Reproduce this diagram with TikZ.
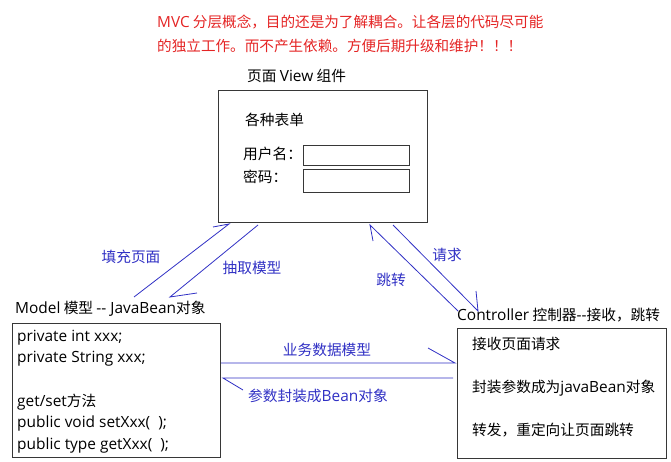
\documentclass[tikz,border=0pt]{standalone}
\usepackage{fontspec}
\setmainfont{Noto Sans CJK SC}
\newfontfamily\latinfont[Scale=1.05]{Open Sans}
\newcommand\lt[1]{{\latinfont #1}}
\definecolor{notered}{RGB}{228,36,36}
\definecolor{flowblue}{RGB}{48,48,196}
\definecolor{boxgray}{RGB}{55,55,55}
\tikzset{
	txt/.style={inner sep=0pt, text height=11pt, text depth=3pt, font=\fontsize{14.7}{16}\selectfont},
	box/.style={draw=boxgray, line width=1.1pt, inner sep=0pt, anchor=north west},
	link/.style={draw=flowblue, line width=0.8pt},
	flowtxt/.style={txt, text=flowblue}
}
\begin{document}
\begin{tikzpicture}[x=1pt, y=-1pt]
		\useasboundingbox (0,0) rectangle (671,462);

		% note on top
		\node[txt, anchor=west, text=notered, font=\fontsize{14.6}{16}\selectfont] (note1) at (157,24) {\lt{MVC} 分层概念，目的还是为了解耦合。让各层的代码尽可能};
		\node[txt, anchor=west, text=notered, font=\fontsize{14.6}{16}\selectfont] (note2) at (157,48) {的独立工作。而不产生依赖。方便后期升级和维护！！！};

		% view
		\node[txt, anchor=west] (viewlabel) at (247,78) {页面 \lt{View} 组件};
		\node[box, minimum width=209pt, minimum height=132pt] (view) at (218,90) {};
		\node[txt, anchor=west] (form) at (245,122) {各种表单};
		\node[txt, anchor=west] (userlabel) at (243,156) {用户名：};
		\node[txt, anchor=west] (pwdlabel) at (243,179) {密码：};
		\node[box, minimum width=106pt, minimum height=20pt] (user) at (303,145) {};
		\node[box, minimum width=106pt, minimum height=23pt] (pwd) at (303,169) {};

		% model
		\node[txt, anchor=west] (modellabel) at (15,309) {\lt{Model} 模型 \lt{-{}- JavaBean}对象};
		\node[box, minimum width=208pt, minimum height=134pt] (model) at (12,323) {};
		\node[txt, anchor=west] (m1) at (17,337) {\lt{private int xxx;}};
		\node[txt, anchor=west] (m2) at (17,358) {\lt{private String xxx;}};
		\node[txt, anchor=west] (m3) at (17,402) {\lt{get/set}方法};
		\node[txt, anchor=west] (m4) at (17,423) {\lt{public void setXxx(~ );}};
		\node[txt, anchor=west] (m5) at (17,445) {\lt{public type getXxx(~ );}};

		% controller
		\node[txt, anchor=west] (ctrllabel) at (457,316) {\lt{Controller} 控制器\lt{-{}-}接收，跳转};
		\node[box, minimum width=209pt, minimum height=130pt] (ctrl) at (457,328) {};
		\node[txt, anchor=west] (c1) at (472,345) {接收页面请求};
		\node[txt, anchor=west] (c2) at (472,388) {封装参数成为\lt{javaBean}对象};
		\node[txt, anchor=west] (c3) at (472,431) {转发，重定向让页面跳转};

		% model <-> view
		\coordinate (fillA) at (134,297);
		\coordinate (fillB) at (229,224);
		\coordinate (pickA) at (258,225);
		\coordinate (pickB) at (170,297);
		\draw[link] (fillA) -- (fillB) -- ++(-16,3);
		\draw[link] (pickA) -- (pickB) -- ++(27,-4);
		\node[flowtxt] (fill) at (131,258) {填充页面};
		\node[flowtxt] (pick) at (252,269) {抽取模型};

		% controller <-> view
		\coordinate (jumpA) at (458,311);
		\coordinate (jumpB) at (370,225);
		\coordinate (reqA) at (393,225);
		\coordinate (reqB) at (478,311);
		\draw[link] (jumpA) -- (jumpB) -- ++(3,16);
		\draw[link] (reqA) -- (reqB) -- ++(-2,-20);
		\node[flowtxt] (jump) at (391,281) {跳转};
		\node[flowtxt] (req) at (447,256) {请求};

		% model <-> controller
		\draw[link] (model.east |- 0,363) -- (455,363) -- ++(-27,-15);
		\draw[link] (ctrl.west |- 0,378) ++(-4,0) -- (223,378) -- ++(20,12);
		\node[flowtxt] (biz) at (327,351) {业务数据模型};
		\node[flowtxt] (param) at (318,397) {参数封装成\lt{Bean}对象};
	\end{tikzpicture}
\end{document}
